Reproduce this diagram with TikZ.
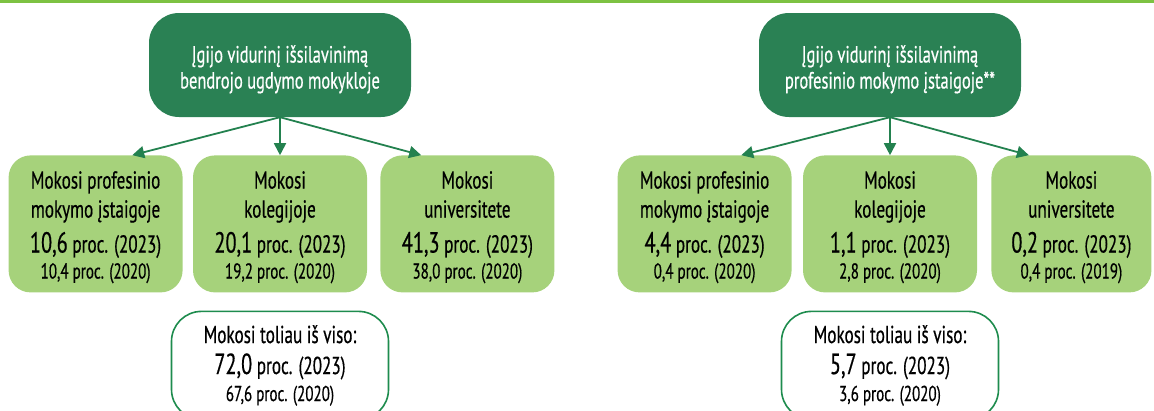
\documentclass[tikz,border=0pt]{standalone}
\usepackage{fontspec}
\setmainfont{PT Sans}[FakeStretch=0.7, FakeBold=0.5]
\usetikzlibrary{arrows.meta, positioning, calc}

\definecolor{stripgreen}{HTML}{7DC242}
\definecolor{rootgreen}{HTML}{2A8154}
\definecolor{leafgreen}{HTML}{A6D27B}
\definecolor{linegreen}{HTML}{23814F}
\definecolor{framegreen}{HTML}{1E8C4E}

\newcommand{\bignum}[1]{{\fontsize{29}{29}\selectfont #1}}
\newcommand{\oldval}[1]{{\fontsize{21.5}{29}\selectfont #1}}
\newcommand{\topgap}[1]{\rule{0pt}{#1}}

\begin{document}
\begin{tikzpicture}[
        x=1pt, y=-1pt,
        rootbox/.style={
            fill=rootgreen,
            text=white,
            rounded corners=30pt,
            align=center,
            minimum width=262pt,
            minimum height=104pt,
            font=\fontsize{23.5}{26}\selectfont
        },
        leafbox/.style={
            fill=leafgreen,
            rounded corners=22pt,
            align=center,
            minimum width=174pt,
            minimum height=137pt,
            inner sep=3pt,
            font=\fontsize{24.5}{29}\selectfont
        },
        totalbox/.style={
            draw=framegreen,
            line width=1.6pt,
            fill=white,
            rounded corners=30pt,
            align=center,
            minimum width=217pt,
            minimum height=108pt,
            font=\fontsize{24.5}{29}\selectfont
        },
        arrow/.style={-{Triangle[length=12pt, width=12pt]}, line width=1.8pt, draw=linegreen, fill=linegreen}
    ]
        \useasboundingbox (0,0) rectangle (1154,410);
        \fill[stripgreen] (0,0) rectangle (1154,3);

        % general school
        \node[rootbox] (rootL) at (280,65) {\topgap{26pt}Įgijo vidurinį išsilavinimą\\ bendrojo ugdymo mokykloje};
        \node[leafbox, below=38pt of rootL] (collL) {\topgap{24pt}Mokosi\\ kolegijoje\\[6pt] \bignum{20,1} proc. (2023)\\[-3pt] \oldval{19,2 proc. (2020)}};
        \node[leafbox, left=10pt of collL] (vocL) {\topgap{24pt}Mokosi profesinio\\ mokymo įstaigoje\\[6pt] \bignum{10,6} proc. (2023)\\[-3pt] \oldval{10,4 proc. (2020)}};
        \node[leafbox, right=13pt of collL] (uniL) {\topgap{24pt}Mokosi\\ universitete\\[6pt] \bignum{41,3} proc. (2023)\\[-3pt] \oldval{38,0 proc. (2020)}};
        \node[totalbox, below=18pt of collL.south, anchor=north] (totL) {Mokosi toliau iš viso:\\[2pt] \bignum{72,0} proc. (2023)\\[-2pt] \oldval{67,6 proc. (2020)}};

        % vocational school
        \node[rootbox] (rootR) at (890,65) {\topgap{26pt}Įgijo vidurinį išsilavinimą\\ profesinio mokymo įstaigoje**};
        \node[leafbox, below=38pt of rootR] (collR) {\topgap{24pt}Mokosi\\ kolegijoje\\[6pt] \bignum{1,1} proc. (2023)\\[-3pt] \oldval{2,8 proc. (2020)}};
        \node[leafbox, left=11pt of collR] (vocR) {\topgap{24pt}Mokosi profesinio\\ mokymo įstaigoje\\[6pt] \bignum{4,4} proc. (2023)\\[-3pt] \oldval{0,4 proc. (2020)}};
        \node[leafbox, right=14pt of collR, minimum width=160pt] (uniR) {\topgap{24pt}Mokosi\\ universitete\\[6pt] \bignum{0,2} proc. (2023)\\[-3pt] \oldval{0,4 proc. (2019)}};
        \node[totalbox, below=18pt of collR.south, anchor=north] (totR) {Mokosi toliau iš viso:\\[2pt] \bignum{5,7} proc. (2023)\\[-2pt] \oldval{3,6 proc. (2020)}};

        \draw[arrow] (rootL.south) -- ($(vocL.north)!0.42!(vocL.north east)$);
        \draw[arrow] (rootL.south) -- (collL.north);
        \draw[arrow] (rootL.south) -- ($(uniL.north)!0.53!(uniL.north west)$);
        \draw[arrow] (rootR.south) -- ($(vocR.north)!0.42!(vocR.north east)$);
        \draw[arrow] (rootR.south) -- (collR.north);
        \draw[arrow] (rootR.south) -- ($(uniR.north)!0.53!(uniR.north west)$);
\end{tikzpicture}
\end{document}
